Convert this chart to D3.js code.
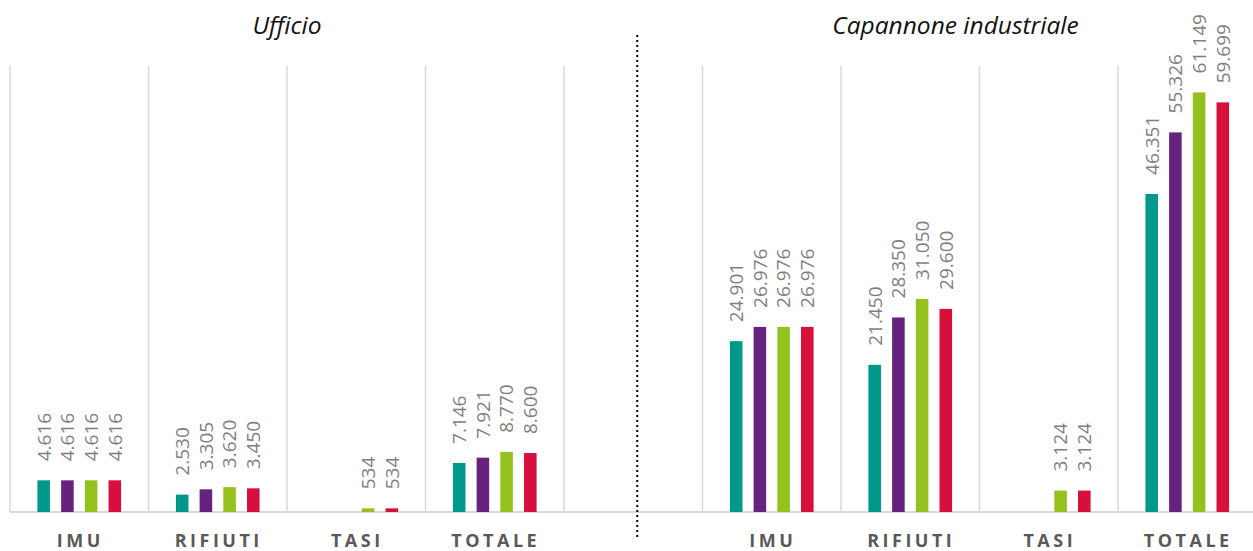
<!DOCTYPE html>
<html>
<head>
<meta charset="utf-8">
<script src="https://cdn.jsdelivr.net/npm/d3@7"></script>
<style>
  body { margin: 0; background: #fff; }
  svg { display: block; }
</style>
</head>
<body>
<svg id="chart" width="1253" height="551"></svg>
<script>
// data (values in euro, shown with italian thousands separator)
const panels = ["Ufficio", "Capannone industriale"];
const categories = ["IMU", "RIFIUTI", "TASI", "TOTALE"];
const seriesNames = ["s1", "s2", "s3", "s4"];
const colors = ["#00988a", "#65237f", "#95c11f", "#d60f3c"];

// order: Ufficio IMU, RIFIUTI, TASI, TOTALE, then Capannone IMU, RIFIUTI, TASI, TOTALE
const s1 = [4616, 2530, null, 7146, 24901, 21450, null, 46351];
const s2 = [4616, 3305, null, 7921, 26976, 28350, null, 55326];
const s3 = [4616, 3620, 534, 8770, 26976, 31050, 3124, 61149];
const s4 = [4616, 3450, 534, 8600, 26976, 29600, 3124, 59699];
const allSeries = [s1, s2, s3, s4];

const svg = d3.select("#chart");
const plotTop = 66, plotBottom = 512;

// slots: 4 categories, an empty gap, 4 categories
const slots = [];
panels.forEach((p, pi) => {
  categories.forEach(c => slots.push(p + "|" + c));
  if (pi === 0) slots.push("gap");
});

const x0 = d3.scaleBand().domain(slots).range([10, 1256.5]).padding(0);
const y = d3.scaleLinear().domain([0, 65000]).range([plotBottom, plotTop]);

const fmt = v => d3.format(",")(v).replace(/,/g, ".");

// vertical gridlines at slot boundaries
const bounds = slots.map(s => x0(s)).concat([x0(slots[slots.length - 1]) + x0.bandwidth()]);
svg.append("g").selectAll("line")
  .data(bounds)
  .enter().append("line")
  .attr("x1", d => d).attr("x2", d => d)
  .attr("y1", plotTop).attr("y2", plotBottom)
  .attr("stroke", "#d9d9d9")
  .attr("stroke-width", 1.5);

// baseline
svg.append("line")
  .attr("x1", bounds[0]).attr("x2", bounds[bounds.length - 1])
  .attr("y1", plotBottom).attr("y2", plotBottom)
  .attr("stroke", "#d9d9d9")
  .attr("stroke-width", 2);

// build bar rows
const rows = [];
panels.forEach((p, pi) => {
  categories.forEach((c, ci) => {
    const idx = pi * categories.length + ci;
    allSeries.forEach((arr, si) => {
      if (arr[idx] == null) return;
      rows.push({ slot: p + "|" + c, series: seriesNames[si], value: arr[idx], color: colors[si] });
    });
  });
});

const step = 23.7;
const x1 = d3.scaleBand().domain(seriesNames)
  .range([-2 * step, 2 * step])
  .paddingInner(0.47).paddingOuter(0.235);

const center = s => x0(s) + x0.bandwidth() / 2;

svg.append("g").selectAll("rect")
  .data(rows)
  .enter().append("rect")
  .attr("x", d => center(d.slot) + x1(d.series))
  .attr("y", d => y(d.value))
  .attr("width", x1.bandwidth())
  .attr("height", d => plotBottom - y(d.value))
  .attr("fill", d => d.color);

// value labels, rotated
svg.append("g").selectAll("text")
  .data(rows)
  .enter().append("text")
  .attr("transform", d => {
    const cx = center(d.slot) + x1(d.series) + x1.bandwidth() / 2;
    return "translate(" + cx + "," + (y(d.value) - 19) + ") rotate(-90)";
  })
  .attr("dy", "0.36em")
  .attr("text-anchor", "start")
  .attr("font-family", "'Open Sans', sans-serif")
  .attr("font-size", 19)
  .attr("fill", "#7f7f7f")
  .text(d => fmt(d.value));

// category labels
svg.append("g").selectAll("text")
  .data(slots.filter(s => s !== "gap"))
  .enter().append("text")
  .attr("x", d => center(d) + 1)
  .attr("y", 547)
  .attr("text-anchor", "middle")
  .attr("font-family", "'Open Sans', sans-serif")
  .attr("font-weight", "bold")
  .attr("font-size", 18)
  .attr("letter-spacing", "3.5px")
  .attr("fill", "#595959")
  .text(d => d.split("|")[1]);

// panel titles
panels.forEach((p, pi) => {
  const first = x0(p + "|" + categories[0]);
  const last = x0(p + "|" + categories[categories.length - 1]) + x0.bandwidth();
  svg.append("text")
    .attr("x", (first + last) / 2 - (pi === 1 ? 24 : 0))
    .attr("y", 34)
    .attr("text-anchor", "middle")
    .attr("font-family", "'Open Sans', sans-serif")
    .attr("font-style", "italic")
    .attr("font-size", 24.5)
    .attr("fill", "#111")
    .text(p);
});

// dotted separator
const gx = center("gap") + 4;
svg.append("line")
  .attr("x1", gx).attr("x2", gx)
  .attr("y1", 35).attr("y2", 539)
  .attr("stroke", "#000")
  .attr("stroke-width", 2)
  .attr("stroke-dasharray", "2,3");
</script>
</body>
</html>
